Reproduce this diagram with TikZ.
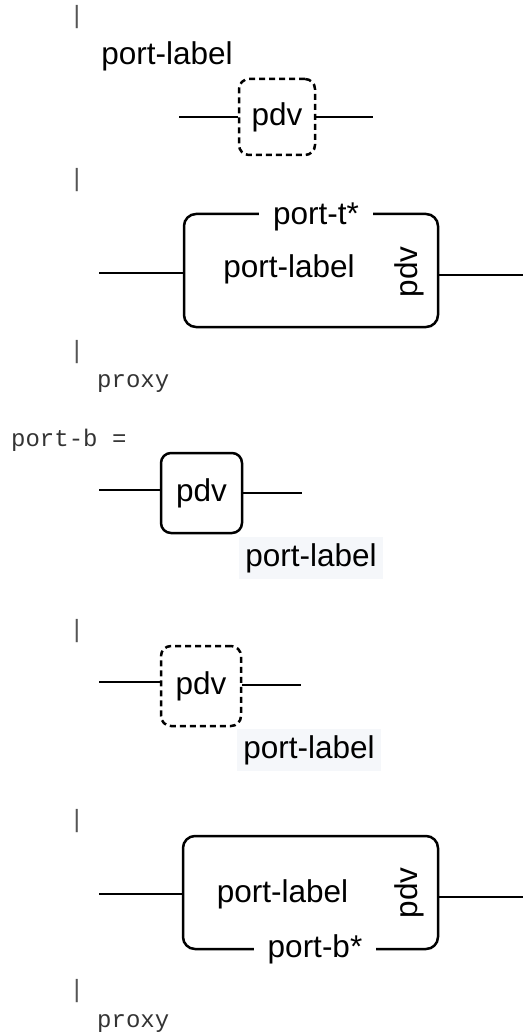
\documentclass[tikz,border=0pt]{standalone}
\usepackage{fontspec}
\setmainfont{Liberation Sans}
\newfontfamily\monof{Liberation Mono}
\definecolor{bgc}{HTML}{F5F7FA}
\definecolor{txtgray}{HTML}{333333}
\definecolor{bargray}{HTML}{555555}
\begin{document}
\begin{tikzpicture}[x=1pt,y=-1pt,
  txt/.style={font=\fontsize{31.5}{36}\selectfont, inner sep=0pt},
  mono/.style={font=\monof\fontsize{24}{28}\selectfont, text=txtgray, inner sep=0pt},
  barmark/.style={font=\monof\fontsize{25}{28}\selectfont, text=bargray, inner sep=0pt},
  blk/.style={draw, line width=2.5pt, rounded corners=10pt, inner sep=0pt, font=\fontsize{31.5}{36}\selectfont},
  dblk/.style={blk, dash pattern=on 6pt off 4pt},
  wire/.style={line width=2.5pt},
  onedge/.style={txt, fill=white, inner xsep=14pt, inner ysep=2pt},
  hilite/.style={txt, fill=bgc, inner xsep=6pt, inner ysep=6pt}]
\useasboundingbox (0,0) rectangle (523,1032);

% section 1
\node[barmark] (bar1) at (77,17) {|};
\node[txt, anchor=base] (lab1) at (167,65) {port-label};
\node[dblk, minimum width=76pt, minimum height=76pt] (b1) at (277,117) {pdv};
\coordinate (w1l) at (179,117);
\coordinate (w1r) at (373,117);
\draw[wire] (w1l) -- (w1l -| b1.west);
\draw[wire] (w1r -| b1.east) -- (w1r);

% section 2
\node[barmark] (bar2) at (77,180) {|};
\node[blk, rounded corners=12pt, minimum width=254pt, minimum height=113pt] (b2) at (311,270.5) {};
\node[onedge, anchor=base] (t2) at (316,225) {port-t*};
\node[txt, anchor=base] (lab2) at (289,277) {port-label};
\node[txt, rotate=90] (pdv2) at (409,272) {pdv};
\coordinate (w2l) at (99,273);
\coordinate (w2r) at (523,275);
\draw[wire] (w2l) -- (w2l -| b2.west);
\draw[wire] (w2r -| b2.east) -- (w2r);
\node[barmark] (bar3) at (77,352) {|};
\node[mono, anchor=base west] (px1) at (97,387) {proxy};

% section 3
\node[mono, anchor=base west] (pb) at (11,446) {port-b =};
\node[blk, minimum width=81pt, minimum height=80pt] (b3) at (201.5,493) {pdv};
\coordinate (w3l) at (99,490);
\coordinate (w3r) at (302,493);
\draw[wire] (w3l) -- (w3l -| b3.west);
\draw[wire] (w3r -| b3.east) -- (w3r);
\node[hilite, anchor=base] (lab3) at (311,566) {port-label};

% section 4
\node[barmark] (bar4) at (77,631) {|};
\node[dblk, minimum width=80pt, minimum height=80pt] (b4) at (201,686) {pdv};
\coordinate (w4l) at (99,682);
\coordinate (w4r) at (301,685);
\draw[wire] (w4l) -- (w4l -| b4.west);
\draw[wire] (w4r -| b4.east) -- (w4r);
\node[hilite, anchor=base] (lab4) at (309,758) {port-label};
\node[barmark] (bar5) at (77,821) {|};

% section 5
\node[blk, rounded corners=12pt, minimum width=255pt, minimum height=113pt] (b5) at (310.5,892.5) {};
\node[txt, anchor=base] (lab5) at (282.5,902) {port-label};
\node[txt, rotate=90] (pdv5) at (409,893) {pdv};
\node[onedge, anchor=base] (bb5) at (315,957) {port-b*};
\coordinate (w5l) at (99,894);
\coordinate (w5r) at (523,897);
\draw[wire] (w5l) -- (w5l -| b5.west);
\draw[wire] (w5r -| b5.east) -- (w5r);
\node[barmark] (bar6) at (77,991) {|};
\node[mono, anchor=base west] (px2) at (97,1027) {proxy};
\end{tikzpicture}
\end{document}
